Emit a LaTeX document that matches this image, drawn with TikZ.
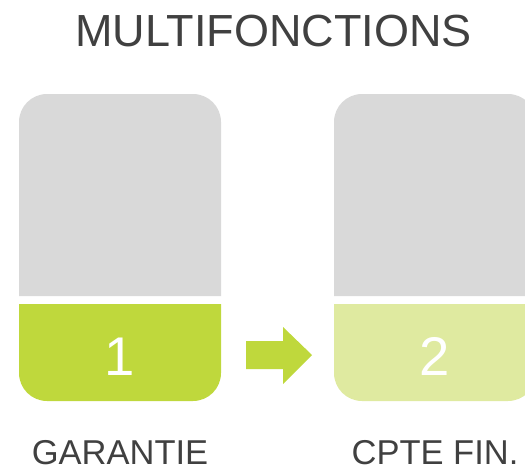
\documentclass[tikz,border=0pt]{standalone}
\usepackage{fontspec}
\setmainfont{Liberation Sans}
\definecolor{boxgray}{RGB}{217,217,217}
\definecolor{mygreen}{RGB}{191,216,60}
\definecolor{lightgreen}{RGB}{223,234,160}
\definecolor{txtgray}{RGB}{64,64,64}
\tikzset{
  title/.style={font=\fontsize{45}{50}\selectfont, text=txtgray, anchor=base, inner sep=0pt},
  label/.style={font=\fontsize{34.5}{40}\selectfont, text=txtgray, anchor=base, inner sep=0pt},
  num/.style={font=\fontsize{54.5}{60}\selectfont, text=white, anchor=base, inner sep=0pt}
}
\begin{document}
\begin{tikzpicture}[x=1pt,y=-1pt]
\useasboundingbox (0,0) rectangle (525,466);
\clip (0,0) rectangle (525,466);
% box 1
\fill[boxgray] (19,296) [rounded corners=28pt] -- (19,94) -- (221,94) [sharp corners] -- (221,296) -- cycle;
\fill[mygreen] (19,304) [rounded corners=28pt] -- (19,401) -- (221,401) [sharp corners] -- (221,304) -- cycle;
% box 2
\fill[boxgray] (334,296) [rounded corners=28pt] -- (334,94) -- (536,94) [sharp corners] -- (536,296) -- cycle;
\fill[lightgreen] (334,304) [rounded corners=28pt] -- (334,401) -- (536,401) [sharp corners] -- (536,304) -- cycle;
% arrow
\fill[mygreen] (246,341) -- (283,341) -- (283,327) -- (312,355) -- (283,384) -- (283,369) -- (246,369) -- cycle;
% texts
\node[title] (t) at (273.5,46.7) {MULTIFONCTIONS};
\node[num] (n1) at (120,375) {1};
\node[num] (n2) at (435,375) {2};
\node[label] (l1) at (120,464) {GARANTIE};
\node[label] (l2) at (435,464) {CPTE FIN.};
\end{tikzpicture}
\end{document}
